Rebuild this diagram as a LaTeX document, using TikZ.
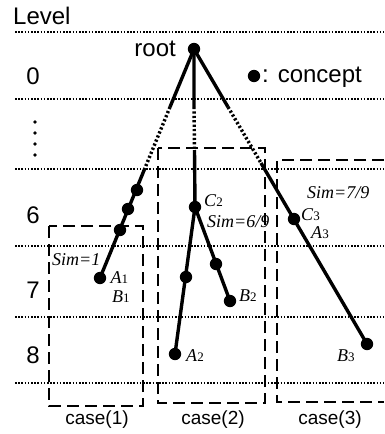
\documentclass[tikz,border=0pt]{standalone}
\usepackage{fontspec}
\setmainfont{Liberation Sans}
\newfontfamily\timesfont{Liberation Serif}
\usetikzlibrary{arrows,calc}
\usepackage{tkz-euclide}

\newcommand{\clab}[2]{{\timesfont\fontsize{18}{18}\selectfont\textit{#1}{\fontsize{13}{13}\selectfont #2}}}
\newcommand{\simlab}[1]{{\timesfont\fontsize{18}{18}\selectfont\textit{#1}}}

\tikzset{
  levelline/.style={line width=1.6pt,dash pattern=on 1.6pt off 1.6pt},
  casebox/.style={line width=1.8pt,dash pattern=on 12pt off 6pt},
  edge/.style={line width=3.4pt},
  hidden/.style={line width=3.4pt,dash pattern=on 2.2pt off 2.2pt},
  bigtext/.style={font=\fontsize{24}{24}\selectfont,inner sep=0pt},
  casetext/.style={font=\fontsize{19}{19}\selectfont,inner sep=0pt},
}

\begin{document}
\begin{tikzpicture}[x=1pt,y=-1pt]
\useasboundingbox (0,0) rectangle (384,434);

% levels
\foreach \y in {32,99,169,246,317,383}
  \draw[levelline] (15,\y) -- (384,\y);
\node[bigtext,anchor=west] (level) at (13,16) {Level};
\node[bigtext] (lv0) at (33,76) {0};
\node[bigtext] (lv6) at (33,215) {6};
\node[bigtext] (lv7) at (33,290) {7};
\node[bigtext] (lv8) at (33,355) {8};
\foreach \y in {122,133,144,155}
  \fill (35,\y) circle (1.8pt);

% cases
\draw[casebox] (49,226) rectangle (143,406);
\draw[casebox] (158,148) rectangle (265,403);
\draw[casebox] (384,160) -- (277,160) -- (277,402) -- (384,402);
\node[casetext] (case1) at (97,420) {case(1)};
\node[casetext] (case2) at (213,420) {case(2)};
\node[casetext] (case3) at (330,420) {case(3)};

% concepts
\tkzDefPoints{194/49/R,170/107/L1,145/168/L2,137/190/P1,128/209/P2,120/230/P3,100/278/A1}
\tkzDefPoints{194/107/M1,194.5/150/M2,195/207/C2,186/277/Q1,175/354/A2,216/264/Q2,230/301/B2}
\tkzDefPoints{228/107/N1,261/163/N2,294/219/C3,367/344/B3,254/76/K}

\draw[edge] (R) -- (L1) (L2) -- (A1);
\draw[edge] (R) -- (M1) (M2) -- (C2) -- (A2) (C2) -- (B2);
\draw[edge] (R) -- (N1) (N2) -- (B3);
\draw[hidden] (L1) -- (L2) (M1) -- (M2) (N1) -- (N2);
\foreach \p in {R,P1,P2,P3,A1,C2,Q1,A2,Q2,B2,C3,B3,K}
  \fill (\p) circle (6.2pt);

\node[bigtext,anchor=east] (rootlab) at (176,49) {root};
\node[bigtext,anchor=west] (legend) at (262,77) {: concept};

\tkzLabelPoint[right=7pt](A1){\clab{A}{1}}
\node[anchor=west,inner sep=0pt] (b1lab) at (112,297) {\clab{B}{1}};
\node[anchor=west,inner sep=0pt] (sim1) at (52,260) {\simlab{Sim=1}};
\node[anchor=west,inner sep=0pt] (c2lab) at (204,201) {\clab{C}{2}};
\node[anchor=west,inner sep=0pt] (sim2) at (207,222) {\simlab{Sim=6/9}};
\node[anchor=west,inner sep=0pt] (b2lab) at (239,296) {\clab{B}{2}};
\node[anchor=west,inner sep=0pt] (a2lab) at (186,356) {\clab{A}{2}};
\node[anchor=west,inner sep=0pt] (sim3) at (307,193) {\simlab{Sim=7/9}};
\node[anchor=west,inner sep=0pt] (c3lab) at (301,215) {\clab{C}{3}};
\node[anchor=west,inner sep=0pt] (a3lab) at (311,233) {\clab{A}{3}};
\node[anchor=west,inner sep=0pt] (b3lab) at (337,356) {\clab{B}{3}};

\end{tikzpicture}
\end{document}
